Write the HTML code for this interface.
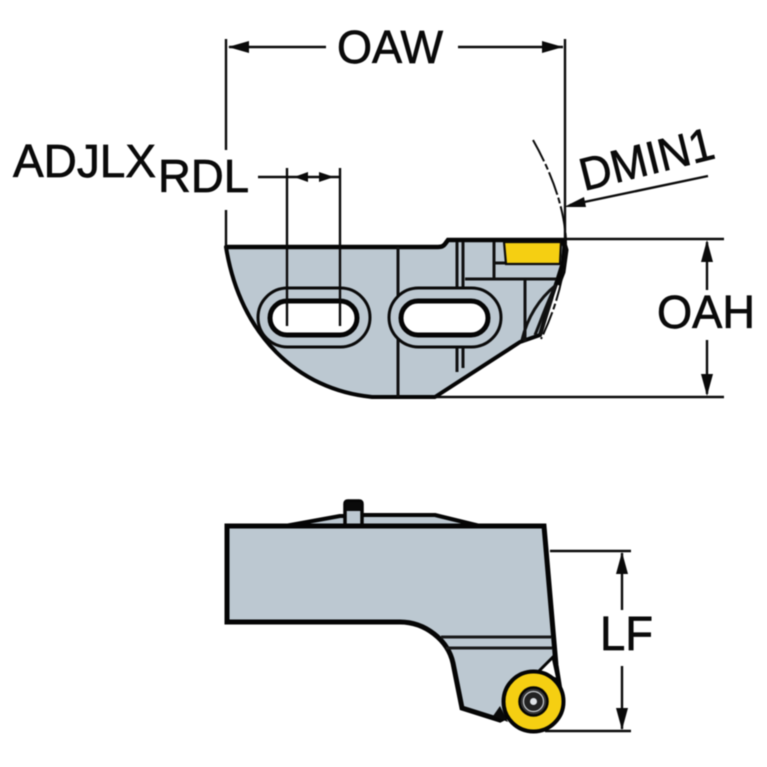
<!DOCTYPE html>
<html><head><meta charset="utf-8"><style>
html,body{margin:0;padding:0;background:#fff;width:767px;height:767px;overflow:hidden}
svg{display:block;filter:blur(.6px)}
text{font-family:"Liberation Sans",sans-serif;fill:#0a0a0a;stroke:#0a0a0a;stroke-width:.7px}
</style></head><body>
<svg width="767" height="767" viewBox="0 0 767 767" xmlns="http://www.w3.org/2000/svg">
<rect width="767" height="767" fill="#fff"/>
<!-- top body -->
<path d="M226 247H438Q443 247 445 244L448 240H565L563 262L558 278L552 296L540 335L520 342L435 397H372C298 390 240 335 226 247Z" fill="#bcc8d1" stroke="#050505" stroke-width="4" stroke-linejoin="round"/>
<path d="M226 247H438Q443 247 445 244L448 240H565" fill="none" stroke="#050505" stroke-width="4.5"/>
<!-- inner lines -->
<g fill="none" stroke="#111" stroke-width="3">
<path d="M398 247V397"/>
<path d="M457 242V288M463 242V288M457 348V372M463 348V368"/>
<path d="M494 242V278M495 263H505M465 279H556"/>
<path d="M525 280V342"/>
<path d="M522 340C528 315 540 298 556 285M535 335C542 318 548 300 556 285M540 335L552 298"/>
</g>
<!-- slots -->
<rect x="258" y="288" width="112" height="59" rx="29.5" fill="#bcc8d1" stroke="#0a0a0a" stroke-width="3"/>
<rect x="270" y="301" width="87" height="34" rx="17" fill="#fff" stroke="#050505" stroke-width="5"/>
<rect x="389" y="288" width="112" height="59" rx="29.5" fill="#bcc8d1" stroke="#0a0a0a" stroke-width="3"/>
<rect x="401" y="301" width="87" height="34" rx="17" fill="#fff" stroke="#050505" stroke-width="5"/>
<!-- insert -->
<path d="M504 242H561L560 264H506Z" fill="#f5cf12" stroke="#0a0a0a" stroke-width="2.2"/>
<path d="M563 240L566 250L563 272L558 285" fill="none" stroke="#050505" stroke-width="5"/>
<!-- dashed arc -->
<path d="M533 140C550 170 564 205 566 240C566 275 555 310 541 339" fill="none" stroke="#0a0a0a" stroke-width="2" stroke-dasharray="24 3 6 3"/>
<!-- dimensions top -->
<g fill="none" stroke="#0a0a0a" stroke-width="2.4">
<path d="M226 39V150M226 210V250M565 39V240M229 47H326M458 47H563"/>
<path d="M258 177H340M287 168V326M340 168V326"/>
<path d="M565 239H724M435 397H724M707 242V290M707 340V394"/>
<path d="M708 176L570 205"/>
<path d="M550 551H631M545 731H631M622 553V610M622 666V729"/>
</g>
<g fill="#0a0a0a">
<path d="M228 47L249 41V53Z"/><path d="M563 47L542 41V53Z"/>
<path d="M294 177L308 172V182Z"/><path d="M334 177L319 172V182Z"/>
<path d="M564 207L584 197L586 207Z"/>
<path d="M707 240L701 262H713Z"/><path d="M707 396L701 374H713Z"/>
<path d="M622 552L616 574H628Z"/><path d="M622 730L616 708H628Z"/>
</g>
<!-- bottom body -->
<path d="M285 526L340 516H362V515H435L480 526Z" fill="#bcc8d1" stroke="#050505" stroke-width="4" stroke-linejoin="round"/>
<path d="M345 526V504Q345 501 348 501H359Q362 501 362 504V526Z" fill="#bcc8d1" stroke="#050505" stroke-width="3.5"/>
<rect x="346" y="502" width="15" height="9" fill="#0a0a0a"/>
<path d="M227 526H544L556 665L560 690L500 720L462 708L453 663C448 640 425 622 400 622H227Z" fill="#bcc8d1" stroke="#050505" stroke-width="5" stroke-linejoin="miter"/>
<path d="M441 637H551M446 648H552" fill="none" stroke="#1a1a1a" stroke-width="3"/>
<path d="M538 672L553 657L558 680Z" fill="#fff" stroke="#050505" stroke-width="3"/>
<path d="M493 716L500 706L508 722Z" fill="#0a0a0a"/>
<circle cx="533.5" cy="701.5" r="30" fill="#f5cf12" stroke="#050505" stroke-width="4"/>
<circle cx="533.5" cy="701.5" r="14" fill="#333" stroke="#050505" stroke-width="2.5"/>
<circle cx="533.5" cy="701.5" r="10" fill="#222" stroke="#c9cdd0" stroke-width="1.2"/>
<circle cx="533.5" cy="701.5" r="3.5" fill="#dfe3e6"/>
<!-- labels -->
<text x="337" y="63" font-size="46" textLength="106" lengthAdjust="spacingAndGlyphs">OAW</text>
<text x="13" y="177" font-size="46" textLength="143" lengthAdjust="spacingAndGlyphs">ADJLX</text>
<text x="158" y="192" font-size="46" textLength="91" lengthAdjust="spacingAndGlyphs">RDL</text>
<text x="657" y="328" font-size="46" textLength="98" lengthAdjust="spacingAndGlyphs">OAH</text>
<text x="600" y="650" font-size="48" textLength="53" lengthAdjust="spacingAndGlyphs">LF</text>
<text transform="translate(584 191) rotate(-14)" font-size="46" textLength="137" lengthAdjust="spacingAndGlyphs">DMIN1</text>
</svg>
</body></html>
